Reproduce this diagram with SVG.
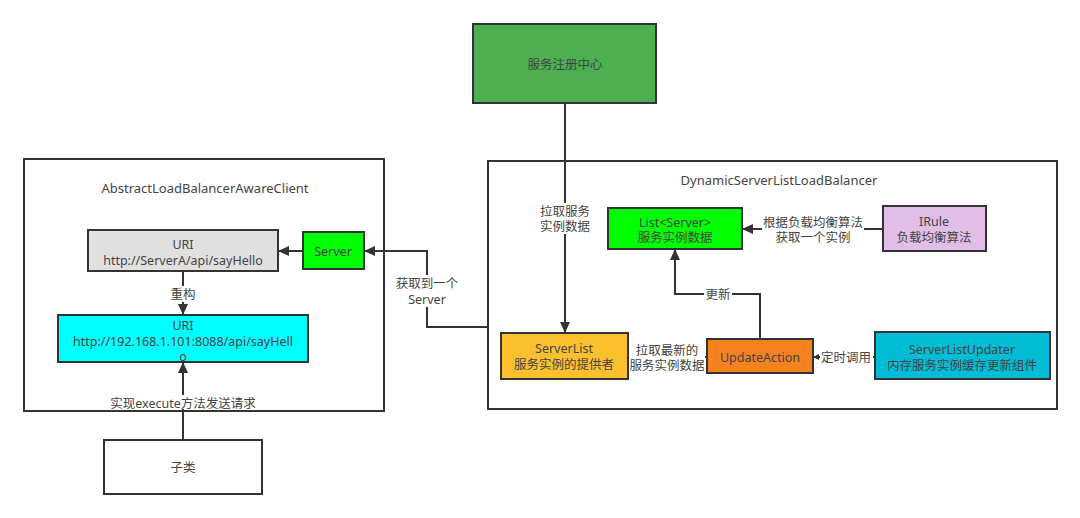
<svg xmlns="http://www.w3.org/2000/svg" width="1080" height="518" viewBox="0 0 1080 518">
<style>
text{font-family:"Noto Sans","Noto Sans CJK SC",sans-serif;font-size:12.5px;fill:#444;text-anchor:middle;dominant-baseline:central}
.lat{font-size:13px}
.cont{fill:#fff;stroke:#333;stroke-width:2}
.box{stroke:#333;stroke-width:2}
.ln{fill:none;stroke:#333;stroke-width:2}
.lbg{fill:#fff}
</style>
<defs>
<marker id="ah" markerUnits="userSpaceOnUse" markerWidth="12" markerHeight="10" refX="11" refY="5" orient="auto"><path d="M0,0 L11,5 L0,10 z" fill="#333"/></marker>
<marker id="ahs" markerUnits="userSpaceOnUse" markerWidth="7" markerHeight="6" refX="6" refY="3" orient="auto"><path d="M0,0 L6,3 L0,6 z" fill="#333"/></marker>
</defs>
<rect width="1080" height="518" fill="#fff"/>
<g id="client-container"><rect class="cont" x="24" y="159" width="360" height="252"/><text class="lat" x="205" y="188">AbstractLoadBalancerAwareClient</text></g>
<g id="lb-container"><rect class="cont" x="488" y="161" width="569" height="248"/><text class="lat" x="779" y="180">DynamicServerListLoadBalancer</text></g>
<g id="connectors">
<path class="ln" d="M565,103 V333" marker-end="url(#ah)"/>
<path class="ln" d="M364,251 H278" marker-end="url(#ah)"/>
<path class="ln" d="M183,271 V315" marker-end="url(#ah)"/>
<path class="ln" d="M183,440 V362" marker-end="url(#ah)"/>
<path class="ln" d="M488,327 H427 V251 H364" marker-end="url(#ah)"/>
<path class="ln" d="M883,229 H742" marker-end="url(#ah)"/>
<path class="ln" d="M760,339 V294 H675 V249" marker-end="url(#ah)"/>
<path class="ln" d="M628,357 H707"/>
<path class="ln" d="M875,357 H813" marker-end="url(#ahs)"/>
<rect class="lbg" x="536" y="203" width="58" height="31"/><text x="565" y="211">拉取服务</text><text x="565" y="226">实例数据</text>
<rect class="lbg" x="169" y="286" width="28" height="16"/><text x="183" y="294">重构</text>
<rect class="lbg" x="104" y="395" width="158" height="14"/><text x="183" y="403">实现execute方法发送请求</text>
<rect class="lbg" x="394" y="275" width="66" height="32"/><text x="427" y="283">获取到一个</text><text x="427" y="299">Server</text>
<rect class="lbg" x="762" y="214" width="102" height="31"/><text x="813" y="222">根据负载均衡算法</text><text x="813" y="237">获取一个实例</text>
<rect class="lbg" x="704" y="287" width="28" height="15"/><text x="718" y="294">更新</text>
<rect class="lbg" x="629" y="342" width="76" height="31"/><text x="667" y="350">拉取最新的</text><text x="667" y="365">服务实例数据</text>
<rect class="lbg" x="820" y="349" width="53" height="16"/><text x="846" y="357">定时调用</text>
</g>
<g id="registry"><rect class="box" x="473" y="24" width="183" height="79" fill="#4caf50"/><text x="565" y="64">服务注册中心</text></g>
<g id="uri-a"><rect class="box" x="88" y="230" width="190" height="41" fill="#e0e0e0"/><text x="183" y="244">URI</text><text x="183" y="260">http://ServerA/api/sayHello</text></g>
<g id="server"><rect class="box" x="303" y="232" width="61" height="37" fill="#00ff00"/><text x="333" y="251">Server</text></g>
<g id="uri-ip"><rect class="box" x="58" y="315" width="250" height="47" fill="#00ffff"/><text x="183" y="325">URI</text><text x="183" y="341">http://192.168.1.101:8088/api/sayHell</text><text x="183" y="356">o</text></g>
<g id="subclass"><rect class="box" x="104" y="440" width="158" height="54" fill="#fff"/><text x="183" y="467">子类</text></g>
<g id="list-server"><rect class="box" x="608" y="208" width="134" height="41" fill="#00ff00"/><text x="675" y="222">List&lt;Server&gt;</text><text x="675" y="237">服务实例数据</text></g>
<g id="irule"><rect class="box" x="883" y="206" width="103" height="45" fill="#e1bee7"/><text x="934" y="221">IRule</text><text x="934" y="237">负载均衡算法</text></g>
<g id="serverlist"><rect class="box" x="501" y="333" width="127" height="46" fill="#fbc02d"/><text x="564" y="348">ServerList</text><text x="564" y="364">服务实例的提供者</text></g>
<g id="update-action"><rect class="box" x="707" y="339" width="106" height="34" fill="#f5821f"/><text x="760" y="357">UpdateAction</text></g>
<g id="serverlist-updater"><rect class="box" x="875" y="332" width="175" height="47" fill="#00bcd4"/><text x="962" y="349">ServerListUpdater</text><text x="962" y="365">内存服务实例缓存更新组件</text></g>
</svg>
